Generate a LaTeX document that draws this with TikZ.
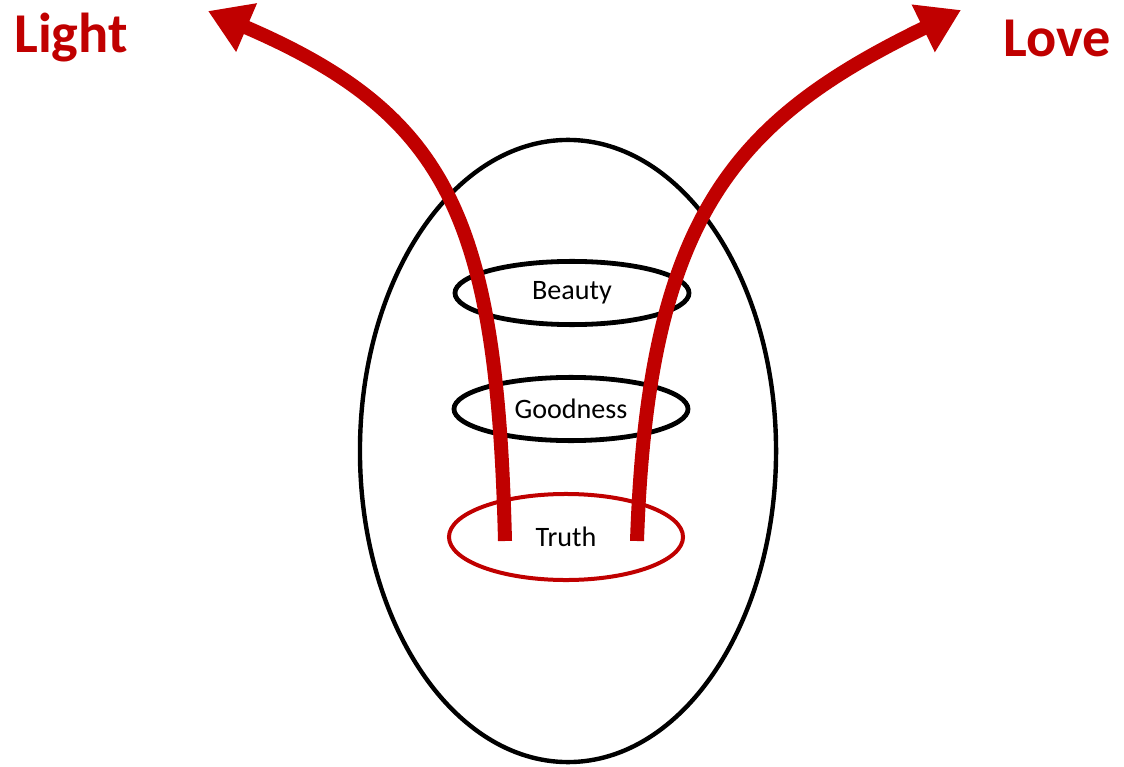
\documentclass[tikz,border=0pt]{standalone}
\usepackage{fontspec}
\setmainfont{Carlito}
\usepackage{xcolor}
\definecolor{deepred}{RGB}{192,0,0}
\usepackage{tikz}
\usetikzlibrary{shapes.geometric,arrows.meta,positioning}
\tikzset{
  soul_ring/.style={ellipse,draw=black,line width=0.11cm,
    inner sep=0pt,minimum width=10.4cm,minimum height=15.55cm},
  ring/.style={ellipse,draw=black,line width=0.12cm,
    inner sep=0pt,minimum width=5.85cm,minimum height=1.58cm,
    font=\fontsize{20}{24}\selectfont},
  ring_red/.style={ring,draw=deepred,line width=0.1cm,
    minimum height=2.15cm},
  big_label/.style={text=deepred,inner sep=0pt,
    font=\fontsize{40}{48}\selectfont\bfseries},
  flow_arr/.style={-{Triangle[length=1.05cm,width=1.25cm]},
    draw=deepred,line width=0.35cm},
}
\begin{document}
\begin{tikzpicture}[x=0.025cm,y=-0.025cm]
  \useasboundingbox (0,0) rectangle (1124,767);
  \node (soul) [soul_ring] at (568,451) {};
  \node (beauty) [ring] at (572,293) {Beauty};
  \node (goodness) [ring] at (571,409) {Goodness};
  \node (truth) [ring_red] at (566,537) {Truth};
  \node (light) [big_label] at (71,38) {Light};
  \node (love) [big_label] at (1057,38) {Love};
  \coordinate (l_start) at (505,541);
  \coordinate (l_tip) at (208,11);
  \coordinate (r_start) at (637,541);
  \coordinate (r_tip) at (961,10);
  \draw[flow_arr] (l_start) .. controls (497,220) and (450,115) .. (l_tip);
  \draw[flow_arr] (r_start) .. controls (648,215) and (735,120) .. (r_tip);
\end{tikzpicture}
\end{document}
